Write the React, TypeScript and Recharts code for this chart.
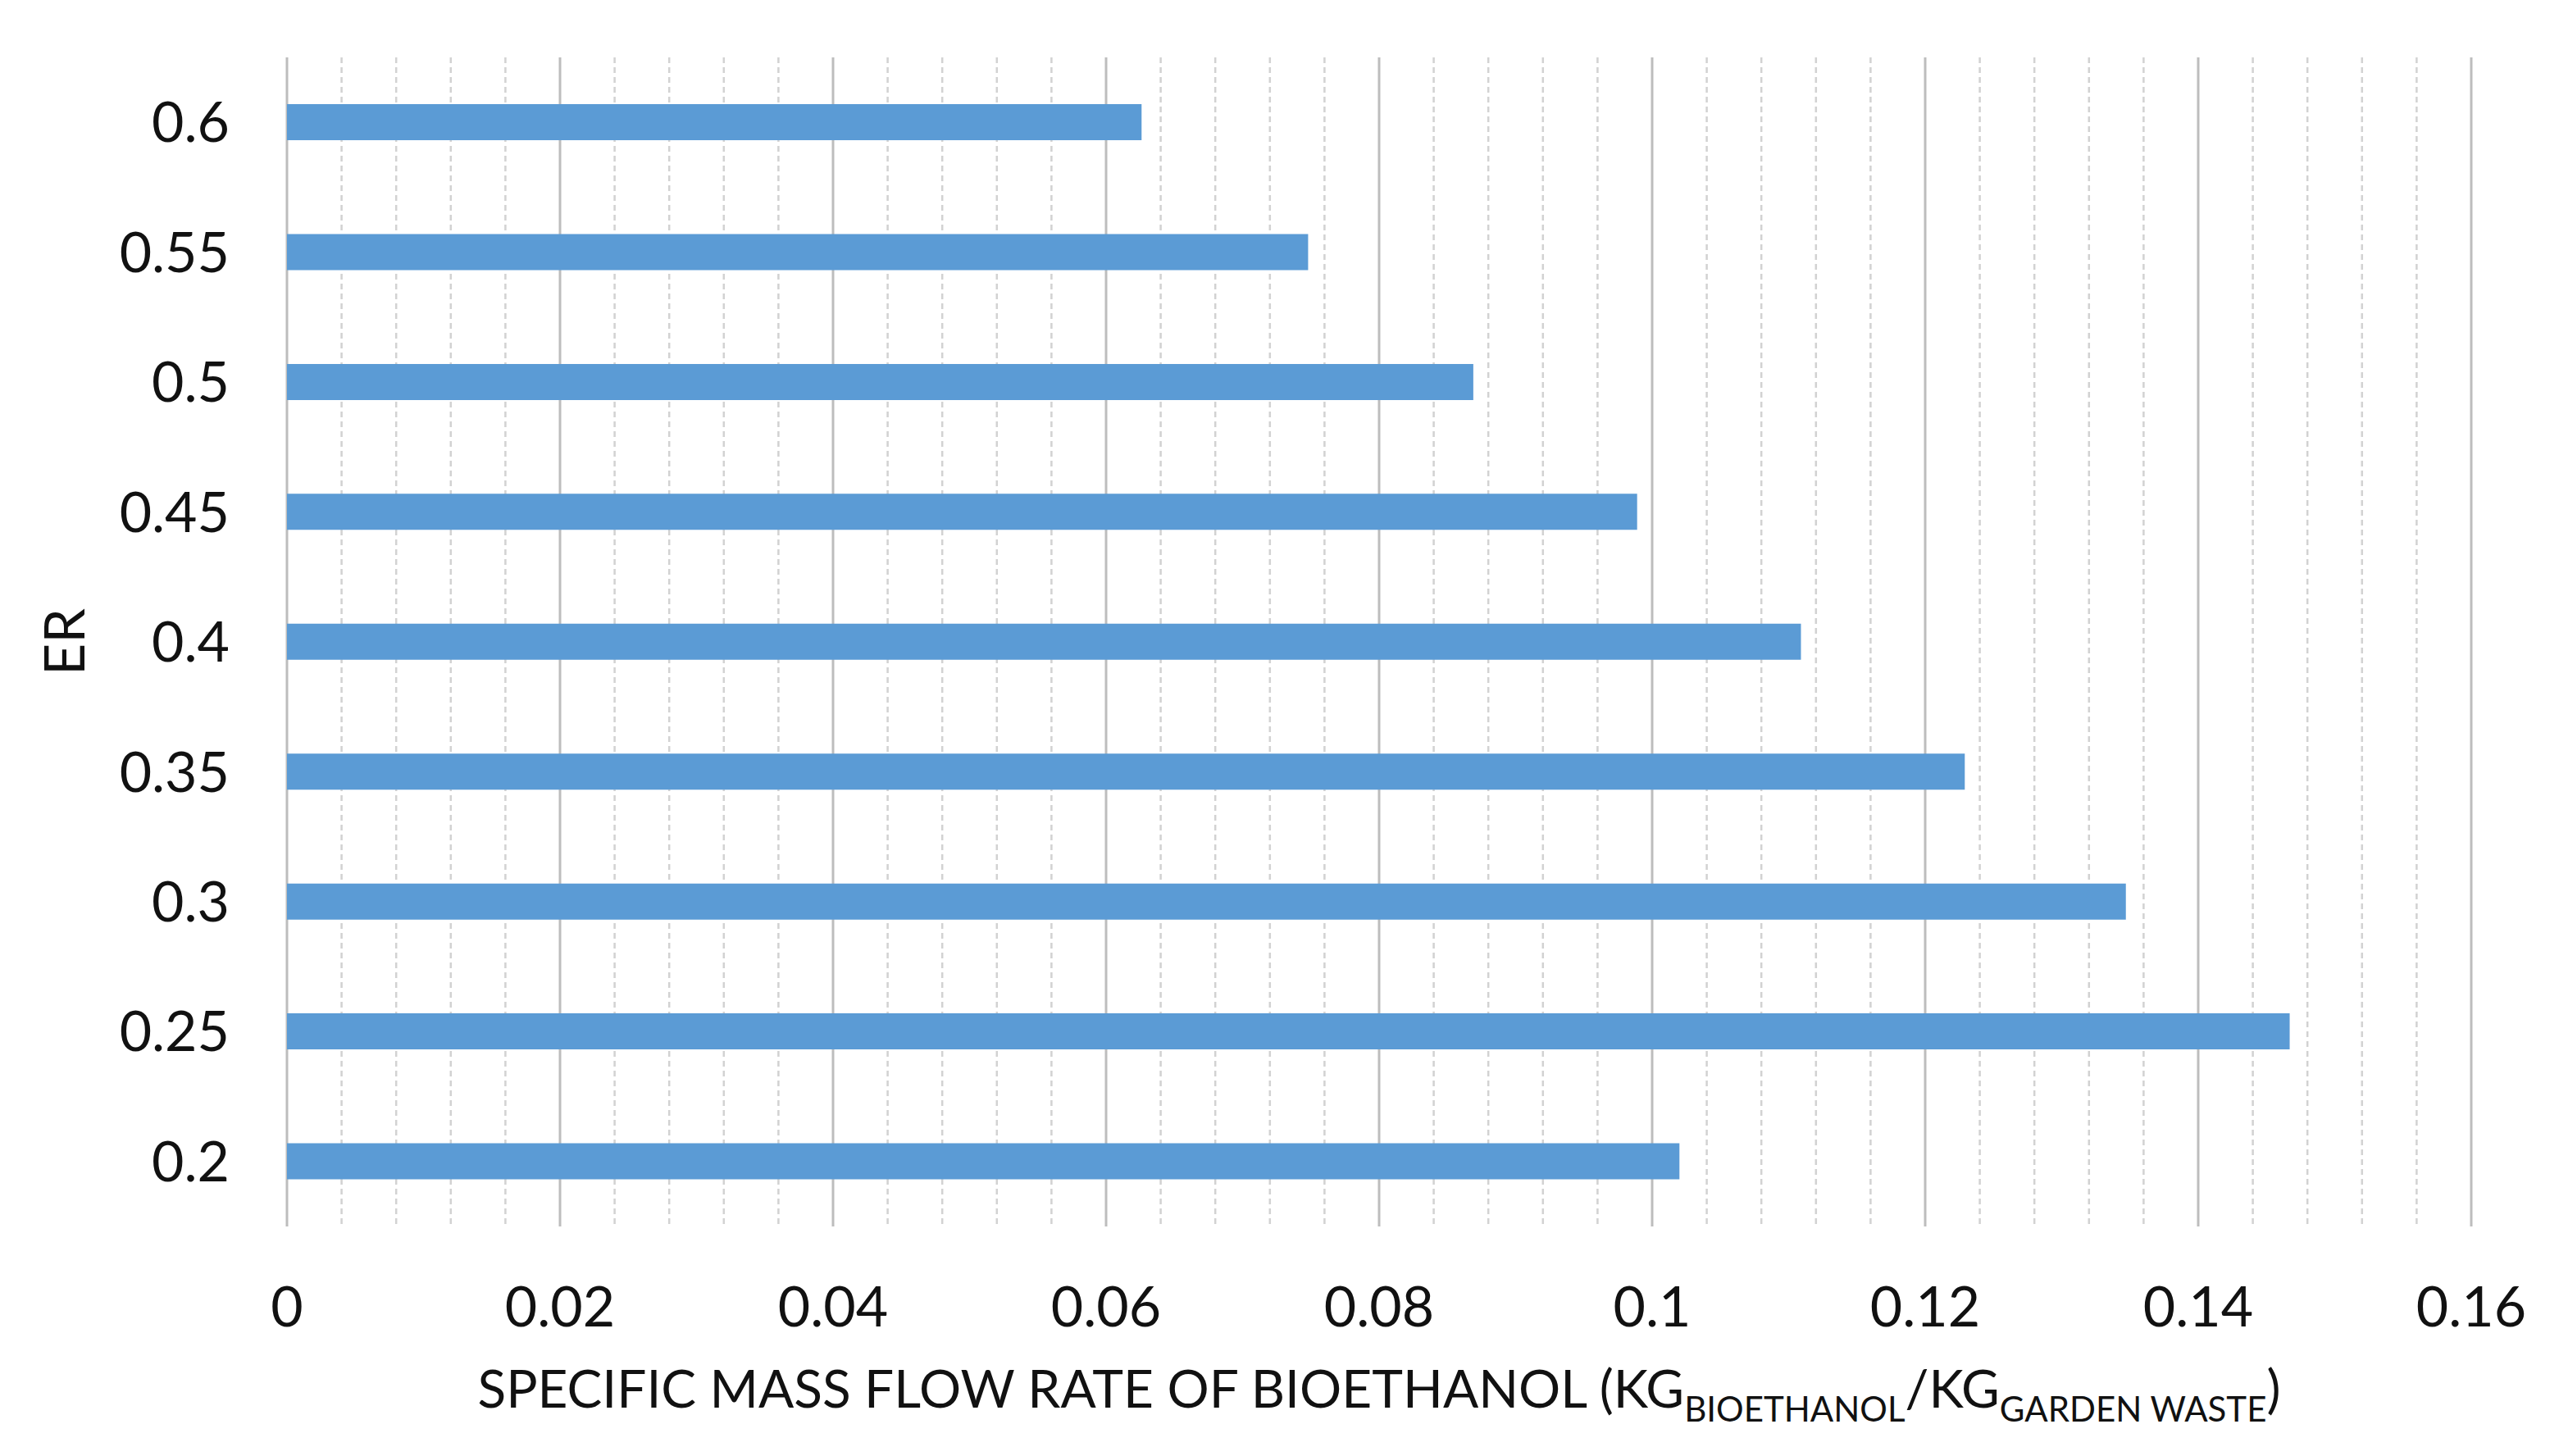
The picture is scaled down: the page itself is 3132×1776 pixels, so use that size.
import React from 'react';
import { BarChart, Bar, XAxis, YAxis, CartesianGrid, Label } from 'recharts';

const categories = ['0.2', '0.25', '0.3', '0.35', '0.4', '0.45', '0.5', '0.55', '0.6'];
const values = [0.102, 0.1467, 0.1347, 0.1229, 0.1109, 0.0989, 0.0869, 0.0748, 0.0626];
const xTicks = [0, 0.02, 0.04, 0.06, 0.08, 0.1, 0.12, 0.14, 0.16];
const xTickLabels = ['0', '0.02', '0.04', '0.06', '0.08', '0.1', '0.12', '0.14', '0.16'];
const minorPerMajor = 5;
const X_MIN = 0;
const X_MAX = 0.16;

const minorTicks: number[] = [];
for (let i = 0; i < xTicks.length - 1; i++) {
  const step = (xTicks[i + 1] - xTicks[i]) / minorPerMajor;
  for (let k = 1; k < minorPerMajor; k++) minorTicks.push(+(xTicks[i] + step * k).toFixed(4));
}

const data = categories.map((c, i) => ({ er: c, value: values[i] }));

const FONT = 'Lato, "Open Sans", sans-serif';
const TEXT = '#111111';

const XLabel = (props: any) => {
  const vb = props.viewBox || {};
  const cx = vb.x + vb.width / 2;
  const y = vb.y + 221;
  return (
    <text x={cx} y={y} textAnchor="middle" fontSize={64} fill={TEXT} fontFamily={FONT}>
      <tspan>SPECIFIC MASS FLOW RATE OF BIOETHANOL (KG</tspan>
      <tspan fontSize={42} dy={17}>BIOETHANOL</tspan>
      <tspan dy={-17}>/KG</tspan>
      <tspan fontSize={42} dy={17}>GARDEN WASTE</tspan>
      <tspan dy={-17}>)</tspan>
    </text>
  );
};

const YLabel = (props: any) => {
  const vb = props.viewBox || {};
  const cx = vb.x + 76;
  const cy = vb.y + vb.height / 2;
  return (
    <text
      x={cx}
      y={cy}
      textAnchor="middle"
      dominantBaseline="central"
      fontSize={68}
      fill={TEXT}
      fontFamily={FONT}
      transform={`rotate(-90 ${cx} ${cy})`}
    >
      ER
    </text>
  );
};

const minorGen = (args: any) => {
  const xAxis = args && args.xAxis;
  const sc = xAxis && xAxis.scale;
  if (typeof sc === 'function') return minorTicks.map((v) => sc(v));
  if (sc && typeof sc.map === 'function') return minorTicks.map((v) => sc.map(v));
  const off = (args && args.offset) || {};
  return minorTicks.map((v) => off.left + ((v - X_MIN) / (X_MAX - X_MIN)) * off.width);
};

export default function App() {
  return (
    <div style={{ position: 'absolute', left: 0, top: 0, width: 3132, height: 1776, background: '#fff' }}>
      <BarChart
        width={3132}
        height={1776}
        data={data}
        layout="vertical"
        margin={{ top: 70, right: 118, bottom: 100, left: 0 }}
        barCategoryGap={0}
      >
        <CartesianGrid
          horizontal={false}
          vertical
          stroke="#d2d2d2"
          strokeWidth={2.5}
          strokeDasharray="7 5"
          verticalCoordinatesGenerator={minorGen}
        />
        <CartesianGrid horizontal={false} vertical stroke="#bdbdbd" strokeWidth={3} />
        <XAxis
          type="number"
          dataKey="value"
          domain={[X_MIN, X_MAX]}
          ticks={xTicks}
          tickFormatter={(v: number) => xTickLabels[xTicks.indexOf(v)] ?? String(v)}
          axisLine={false}
          tickLine={false}
          tickSize={0}
          tickMargin={74}
          height={180}
          tick={{ fontSize: 68, fill: TEXT, fontFamily: FONT }}
          interval={0}
        >
          <Label content={<XLabel />} position="bottom" />
        </XAxis>
        <YAxis
          type="category"
          dataKey="er"
          reversed
          width={350}
          axisLine={false}
          tickLine={false}
          tickSize={0}
          tickMargin={70}
          tick={{ fontSize: 68, fill: TEXT, fontFamily: FONT }}
          interval={0}
        >
          <Label content={<YLabel />} position="left" />
        </YAxis>
        <Bar dataKey="value" fill="#5b9bd5" barSize={44} isAnimationActive={false} />
      </BarChart>
    </div>
  );
}
